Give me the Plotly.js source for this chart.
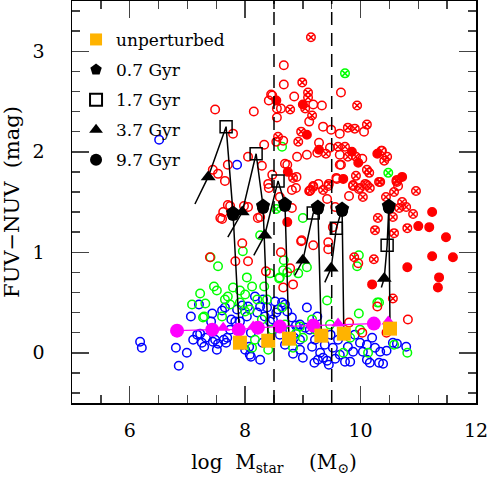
<!DOCTYPE html>
<html>
<head>
<meta charset="utf-8">
<script src="https://cdn.plot.ly/plotly-3.0.1.min.js"></script>
<style>body{margin:0;background:#fff}#plot{width:491px;height:480px}</style>
</head>
<body>
<div id="plot"></div>
<script>
// observed galaxies, [log Mstar, FUV-NUV]
var blueOpen = [[6.18,0.11],[6.21,0.05],[6.51,2.12],[6.80,0.05],[6.85,-0.13],[6.99,0.00],[7.06,0.36],[7.20,0.48],
  [7.10,0.13],[7.17,0.18],[7.22,0.19],[7.25,0.10],[7.29,0.06],[7.32,0.15],[7.41,0.31],[7.43,0.39],[7.44,0.11],
  [7.48,0.13],[7.51,0.03],[7.53,0.09],[7.60,0.42],[7.65,0.45],[7.63,0.13],[7.67,0.10],[7.69,0.15],[7.74,0.23],
  [7.76,0.33],[7.83,0.31],[7.86,1.87],[7.86,0.43],[7.91,0.31],[7.95,0.47],[7.95,0.08],[8.00,0.03],[8.03,0.36],
  [8.05,0.46],[8.07,0.06],[8.08,-0.02],[8.10,-0.04],[8.17,0.56],[8.21,0.40],[8.26,-0.07],[8.26,0.46],[8.31,0.53],
  [8.34,0.36],[8.38,0.45],[8.48,0.33],[8.52,0.51],[8.54,0.40],[8.57,0.43],[8.64,0.50],[8.69,0.48],[8.73,0.41],
  [8.81,0.35],[8.88,0.27],[8.85,0.15],[8.83,-0.01],[8.95,0.03],[9.07,0.45],[9.12,0.23],[9.16,0.06],[9.25,0.36],
  [9.26,-0.07],[9.30,0.00],[9.35,-0.05],[9.42,-0.08],[9.45,-0.12],[9.52,0.05],[9.56,-0.06],[9.73,-0.09],[9.78,0.06],
  [9.82,-0.09],[9.87,0.01],[9.99,0.10],[10.04,0.01],[10.11,0.08],[10.11,-0.07],[10.16,-0.10],[10.25,0.05],
  [10.32,-0.10],[10.34,0.01],[10.39,-0.11],[10.56,0.10],[10.63,0.09],[10.79,0.06],[8.43,0.31],[8.60,0.18],
  [8.69,0.08],[8.95,0.13],[9.04,0.25],[9.21,0.13],[9.38,0.08],[9.61,0.13],[9.90,0.18],[9.64,-0.02],[8.95,0.28],
  [8.78,0.23],[9.00,-0.05],[9.20,-0.10],[9.48,0.18],[10.20,0.15],[10.45,0.02],[8.10,0.20],[8.30,0.10]];

var greenOpen = [[7.22,0.59],[7.08,0.48],[7.31,0.49],[7.27,0.35],[7.46,0.66],[7.51,0.62],[7.53,0.86],[7.65,0.53],
  [7.70,0.56],[7.74,0.48],[7.79,0.65],[7.91,0.62],[7.91,0.50],[7.96,1.01],[8.00,0.58],[8.03,0.75],[8.12,0.66],
  [8.08,0.43],[8.33,0.66],[8.38,0.53],[8.43,0.79],[8.60,0.75],[8.66,0.82],[8.64,0.45],[8.40,0.03],[8.12,0.05],
  [7.60,0.36],[7.29,0.36],[8.21,0.53],[8.73,0.80],[8.67,0.92],[8.92,0.79],[9.07,0.85],[8.59,0.74],[9.00,1.34],
  [8.64,2.05],[9.42,0.52],[9.97,0.97],[9.94,0.86],[9.97,0.39],[10.32,0.50],[8.83,0.05],[9.00,0.15],[9.21,0.23],
  [9.70,0.00],[9.99,0.23],[10.13,0.00],[10.29,0.50],[10.58,0.08],[10.81,0.00],[9.82,0.15],[8.95,0.26],[8.88,0.19],
  [8.69,0.28],[8.47,0.23],[8.29,0.33],[9.16,0.33],[9.47,0.28],[8.00,0.41],[8.17,0.13],[8.26,1.17],[7.40,0.95]];

var greenDotted = [[9.73,2.78],[10.48,1.79],[8.54,1.43]];

var redOpen = [[7.48,2.42],[8.15,2.40],[7.79,2.18],[8.45,2.57],[8.41,2.51],[8.55,2.43],[8.55,2.34],[8.33,2.07],
  [8.05,1.95],[7.70,1.87],[7.44,1.82],[7.53,1.78],[7.65,1.71],[8.47,1.77],[8.40,1.68],[8.41,1.64],[8.67,2.86],
  [8.67,2.67],[8.47,2.56],[8.62,2.43],[8.85,2.55],[9.33,2.46],[9.18,2.47],[9.11,2.30],[9.66,2.59],[9.35,2.25],
  [9.49,2.22],[9.64,2.18],[9.28,2.09],[9.47,2.04],[10.06,2.20],[9.64,1.97],[10.03,1.93],[9.66,1.87],[9.25,1.99],
  [8.90,1.95],[9.07,1.97],[8.54,2.10],[8.66,2.11],[8.69,1.88],[8.29,1.86],[10.37,2.01],[10.63,1.70],[10.65,1.66],
  [9.97,1.63],[9.80,1.56],[9.58,1.74],[8.81,1.62],[8.88,1.64],[9.18,1.66],[9.44,1.66],[9.42,1.53],[9.56,1.45],
  [8.81,1.44],[9.87,1.66],[10.11,1.67],[9.11,1.61],[9.59,1.73],[9.64,1.87],[8.97,1.11],[9.18,1.07],[9.44,1.10],
  [9.44,1.03],[8.62,1.00],[8.36,0.81],[8.66,0.65],[8.83,0.68],[8.78,0.84],[9.52,1.25],[9.96,0.89],[10.29,0.46],
  [10.82,0.33],[10.03,0.20],[7.39,0.95],[7.83,0.91],[8.05,0.91],[7.95,1.09],[8.26,1.35],[7.74,1.46],[7.62,1.40],
  [7.57,1.34],[8.05,1.45],[7.70,1.47],[7.60,1.33],[7.98,1.46],[8.22,1.34],[8.60,1.55],[8.73,1.87],[8.89,1.75],
  [9.13,1.62],[9.27,1.68],[8.98,1.12],[10.45,0.20],[9.80,0.30]];

var redDotted = [[9.14,3.14],[8.99,2.69],[9.09,2.59],[9.09,2.54],[8.78,2.42],[9.16,2.36],[8.97,2.20],[8.92,2.10],
  [9.78,2.24],[9.90,2.23],[9.94,2.46],[10.11,2.27],[9.61,2.05],[9.73,2.05],[9.40,1.98],[9.78,1.95],[9.92,1.95],
  [8.57,2.15],[10.36,2.01],[10.46,1.95],[10.41,1.91],[10.11,1.82],[10.15,1.79],[9.92,1.76],[10.32,1.70],
  [10.63,1.72],[10.96,1.61],[10.58,1.60],[10.16,1.64],[10.08,1.68],[9.87,1.67],[8.83,1.74],[9.18,1.65],
  [9.45,1.68],[9.35,1.62],[9.12,1.61],[10.62,1.71],[10.44,1.55],[10.72,1.50],[10.79,1.45],[10.67,1.44],
  [10.91,1.38],[10.56,1.35],[10.81,1.24],[10.58,1.19],[10.56,0.54],[10.34,1.70],[10.30,1.34],[10.25,1.22],
  [9.89,0.95],[10.23,0.93],[9.04,2.43],[10.04,1.55],[9.99,1.64]];

var redFilled = [[8.54,2.51],[9.00,2.47],[9.07,2.17],[9.28,2.02],[9.85,2.00],[9.96,1.89],[10.29,1.98],[10.72,1.75],
  [9.70,1.73],[8.74,1.80],[8.73,1.30],[11.24,1.40],[11.19,1.25],[11.48,1.15],[11.24,0.96],[11.60,0.95],
  [10.81,0.85],[11.36,0.75],[11.34,0.65],[10.20,0.68],[11.00,1.26]];

// model tracks, one entry per model galaxy
var unperturbedX = [7.91, 8.40, 8.76, 9.32, 9.71, 10.51];
var unperturbedY = [0.10, 0.12, 0.14, 0.17, 0.19, 0.24];
var gyr07X = [7.79, 8.31, 8.69, 9.26, 9.68, 10.49];
var gyr07Y = [1.39, 1.46, 1.48, 1.45, 1.43, 1.46];
var gyr17X = [7.67, 8.19, 8.57, 9.18, 9.58, 10.46];
var gyr17Y = [2.25, 1.98, 1.71, 1.39, 1.24, 1.07];
var gyr37X = [7.36, 7.95, 8.34, 9.00, 9.49, 10.41];
var gyr37Y = [1.75, 1.40, 1.17, 0.92, 0.84, 0.74];
var gyr97X = [7.79, 8.31, 8.69, 9.26, 9.68, 10.49];
var gyr97Y = [1.37, 1.44, 1.46, 1.43, 1.41, 1.44];
var trackEndX = [7.13, 7.70, 8.15, 8.86, 9.38, 10.36];
var trackEndY = [1.48, 1.15, 0.97, 0.77, 0.70, 0.65];

// second model set
var magentaCircX = [6.82, 7.43, 7.89, 8.22, 8.60, 9.18, 10.23];
var magentaCircY = [0.22, 0.23, 0.23, 0.25, 0.26, 0.27, 0.29];
var magentaTriX = [7.62, 8.14, 9.61, 10.48];
var magentaTriY = [0.25, 0.26, 0.29, 0.31];

var dividers = [8.5, 9.5];

function col(arr, i) { return arr.map(function(p) { return p[i]; }); }

function cloud(pts, color, symbol) {
  return {
    x: col(pts, 0), y: col(pts, 1), mode: 'markers', type: 'scatter', showlegend: false,
    marker: {symbol: symbol, size: 8.5, color: color, line: {color: color, width: 1.5}}
  };
}

var data = [
  cloud(blueOpen, '#0000ff', 'circle-open'),
  cloud(greenOpen, '#00ff00', 'circle-open'),
  cloud(redOpen, '#ff0000', 'circle-open'),
  cloud(redDotted, '#ff0000', 'circle-x-open'),
  cloud(greenDotted, '#00ff00', 'circle-x-open'),
  cloud(redFilled, '#ff0000', 'circle')
];

for (var i = 0; i < unperturbedX.length; i++) {
  data.push({
    x: [unperturbedX[i], gyr07X[i], gyr17X[i], gyr37X[i], trackEndX[i]],
    y: [unperturbedY[i], gyr07Y[i], gyr17Y[i], gyr37Y[i], trackEndY[i]],
    mode: 'lines', type: 'scatter', showlegend: false,
    line: {color: 'black', width: 1.5}
  });
}

data.push({
  x: magentaCircX, y: magentaCircY, mode: 'lines+markers', type: 'scatter', showlegend: false,
  line: {color: '#ff00ff', width: 1.2},
  marker: {symbol: 'circle', size: 14, color: '#ff00ff'}
});
data.push({
  x: magentaTriX, y: magentaTriY, mode: 'markers', type: 'scatter', showlegend: false,
  marker: {symbol: 'triangle-up', size: 12, color: '#ff00ff'}
});

function epoch(name, xs, ys, symbol, color, size, rank) {
  return {
    x: xs, y: ys, mode: 'markers', type: 'scatter', name: name, legendgroup: name, legendrank: rank,
    marker: {symbol: symbol, size: size, color: color, line: {color: 'black', width: symbol == 'square-open' ? 1.5 : 0}}
  };
}
data.push(epoch('unperturbed', unperturbedX, unperturbedY, 'square', '#ffb300', 14, 1));
data.push(epoch('9.7 Gyr', gyr97X, gyr97Y, 'circle', 'black', 12, 5));
data.push(epoch('0.7 Gyr', gyr07X, gyr07Y, 'pentagon', 'black', 15, 2));
data.push(epoch('1.7 Gyr', gyr17X, gyr17Y, 'square-open', 'black', 12, 3));
data.push(epoch('3.7 Gyr', gyr37X, gyr37Y, 'triangle-up', 'black', 13, 4));

var shapes = dividers.map(function(v) {
  return {type: 'line', xref: 'x', yref: 'paper', x0: v, x1: v, y0: 0, y1: 1,
    line: {color: 'black', width: 1.5, dash: '13px,8px'}};
});

var font = 'DejaVu Serif, serif';
var layout = {
  width: 491, height: 480,
  margin: {l: 72, r: 15, t: 1, b: 77},
  paper_bgcolor: 'white', plot_bgcolor: 'white',
  font: {family: font, color: 'black', size: 19},
  shapes: shapes,
  showlegend: true,
  legend: {x: 0.01, y: 0.948, xanchor: 'left', yanchor: 'top', bgcolor: 'rgba(0,0,0,0)',
    font: {family: font, size: 17}, traceorder: 'grouped', tracegroupgap: 5, itemsizing: 'constant'},
  xaxis: {
    range: [5, 12], tickvals: [6, 8, 10, 12], ticks: 'inside', ticklen: 17, tickwidth: 1.5,
    showline: true, linewidth: 1.5, linecolor: 'black', mirror: 'allticks', showgrid: false, zeroline: false,
    ticklabelstandoff: 10,
    minor: {dtick: 0.5, tick0: 0, ticks: 'inside', ticklen: 8, tickwidth: 1.5, showgrid: false},
    title: {text: 'log\u00a0\u00a0M<sub>star</sub>\u00a0\u00a0\u00a0\u00a0(M<sub>\u2299</sub>)', font: {size: 20}, standoff: 14}
  },
  yaxis: {
    range: [-0.5, 3.5], tickvals: [0, 1, 2, 3], ticks: 'inside', ticklen: 17, tickwidth: 1.5,
    showline: true, linewidth: 1.5, linecolor: 'black', mirror: 'allticks', showgrid: false, zeroline: false,
    ticklabelstandoff: 22,
    minor: {dtick: 0.2, tick0: 0, ticks: 'inside', ticklen: 8, tickwidth: 1.5, showgrid: false},
    title: {text: 'FUV\u2212NUV\u00a0\u00a0(mag)', font: {size: 21}, standoff: 12}
  }
};

Plotly.newPlot('plot', data, layout, {displayModeBar: false, staticPlot: true});
</script>
</body>
</html>
